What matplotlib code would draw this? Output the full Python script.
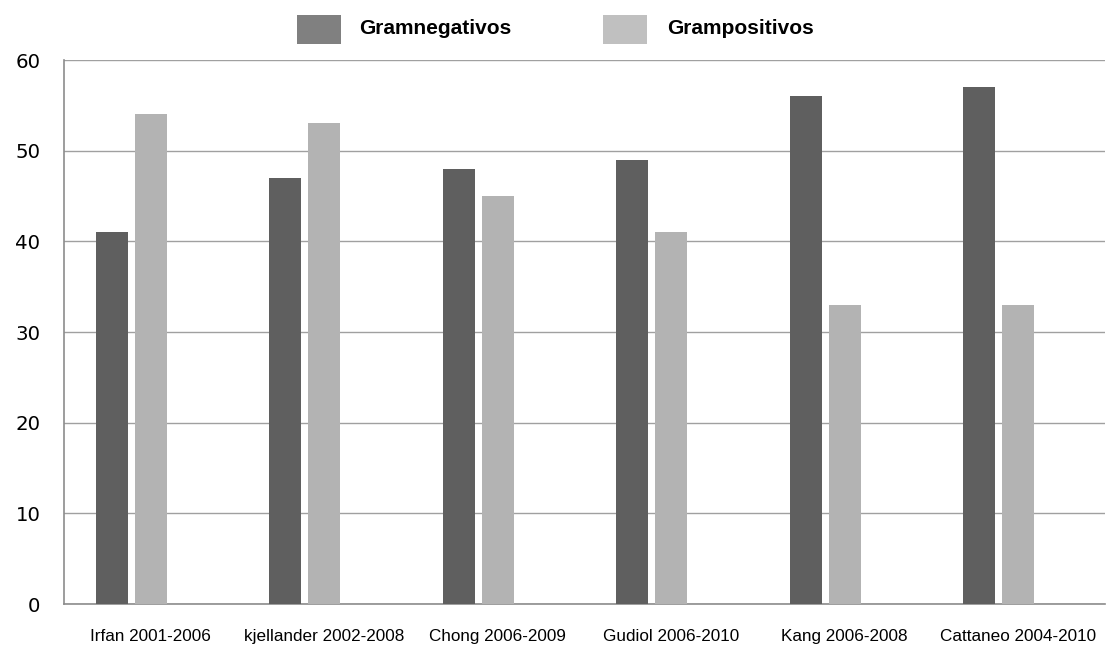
import matplotlib
matplotlib.use("Agg")
import matplotlib.pyplot as plt
from matplotlib.patches import Rectangle
import numpy as np

categories = ["Irfan 2001-2006", "kjellander 2002-2008", "Chong 2006-2009",
              "Gudiol 2006-2010", "Kang 2006-2008", "Cattaneo 2004-2010"]
gramneg = [41, 47, 48, 49, 56, 57]
grampos = [54, 53, 45, 41, 33, 33]
series_names = ["Gramnegativos", "Grampositivos"]
yticks = [0, 10, 20, 30, 40, 50, 60]

lab_font = ["Liberation Sans", "DejaVu Sans"]

W, H = 1108, 649
fig = plt.figure(figsize=(W / 100, H / 100), dpi=100)
ax = fig.add_axes([64 / W, (H - 604) / H, (1105 - 64) / W, (604 - 60) / H])

x = np.arange(len(categories))
w = 0.184
ax.bar(x - 0.225, gramneg, w, color="#5f5f5f", zorder=3)
ax.bar(x + 0.0, grampos, w, color="#b3b3b3", zorder=3)

ax.set_xlim(-0.5, len(categories) - 0.5)
ax.set_ylim(0, 60)
ax.set_yticks(yticks)
ax.set_yticklabels([str(v) for v in yticks], fontsize=14.2, family="DejaVu Sans")
ax.yaxis.grid(True, color="#a0a0a0", linewidth=1.0, zorder=0)
ax.set_xticks(x)
ax.set_xticklabels(categories, fontsize=12.3, family=lab_font)
ax.tick_params(axis="x", length=0, pad=18)
ax.tick_params(axis="y", length=0, pad=17)
for s in ["top", "right"]:
    ax.spines[s].set_visible(False)
for s in ["left", "bottom"]:
    ax.spines[s].set_color("#8c8c8c")
    ax.spines[s].set_linewidth(1.2)

def fx(px):
    return px / W
def fy(py):
    return 1 - py / H

leg = [(297, 359, "#808080", series_names[0]), (603, 667, "#c0c0c0", series_names[1])]
for sx, tx, col, name in leg:
    fig.add_artist(Rectangle((fx(sx), fy(44)), 44 / W, 29 / H, transform=fig.transFigure,
                             facecolor=col, edgecolor="none"))
    fig.text(fx(tx), fy(29), name, fontsize=15, family=lab_font, fontweight="bold",
             va="center", ha="left")

fig.savefig("out.png", dpi=100)
